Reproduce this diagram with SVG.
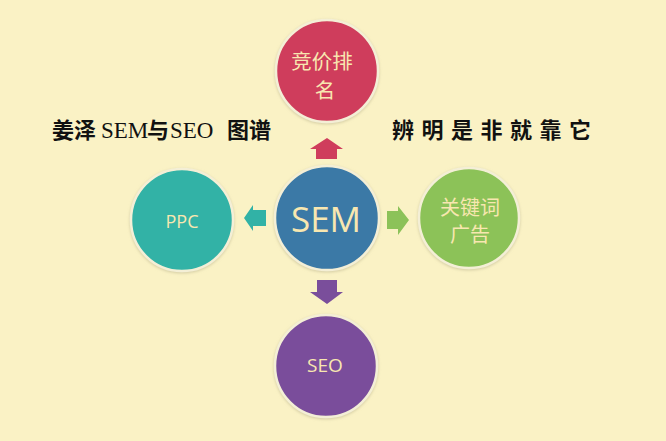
<svg xmlns="http://www.w3.org/2000/svg" width="666" height="441" viewBox="0 0 666 441">
<defs>
<style>
.ring{stroke:#f4efd6;stroke-width:2.5}
.lbl{fill:#f8e7b0;font-family:"Noto Sans CJK SC","Noto Sans",sans-serif;text-anchor:middle}
.en{font-family:"Open Sans","Noto Sans",sans-serif}
.title{fill:#111;font-family:"Noto Sans CJK SC",sans-serif;font-weight:bold;font-size:22px}
.ser{font-family:"Liberation Serif",serif;font-weight:normal;font-size:23px}
</style>
<filter id="sh" x="-20%" y="-20%" width="140%" height="140%">
<feDropShadow dx="0" dy="1" stdDeviation="1.5" flood-color="#b8b08a" flood-opacity="0.6"/>
</filter>
</defs>
<rect width="666" height="441" fill="#faf2c5"/>
<g id="connectors">
<polygon points="327,138 343,149 337,149 337,159 316,159 316,149 310,149" fill="#cf3d5c"/>
<polygon points="244,218 253,205 253,210 266,210 266,226 253,226 253,231" fill="#31b2a6"/>
<polygon points="409,220 398,206 398,211 387,211 387,229 398,229 398,235" fill="#8cc259"/>
<polygon points="327,304 343,292 337,292 337,280 317,280 317,292 310,292" fill="#7a4e9b"/>
</g>
<g id="node-top">
<circle cx="327" cy="71" r="51" fill="#cf3d5c" class="ring" filter="url(#sh)"/>
<text class="lbl" x="322" y="69" font-size="20.5">竞价排</text>
<text class="lbl" x="325" y="98" font-size="20.5">名</text>
</g>
<g id="node-sem">
<circle cx="327" cy="218" r="52" fill="#3b79a6" class="ring" filter="url(#sh)"/>
<text class="lbl en" x="326" y="232" font-size="35">SEM</text>
</g>
<g id="node-ppc">
<circle cx="182" cy="220" r="51" fill="#31b2a6" class="ring" filter="url(#sh)"/>
<text class="lbl en" x="182" y="228" font-size="18">PPC</text>
</g>
<g id="node-keyword">
<circle cx="469" cy="218" r="50" fill="#8cc259" class="ring" filter="url(#sh)"/>
<text class="lbl" x="470" y="215" font-size="20">关键词</text>
<text class="lbl" x="470" y="242" font-size="20">广告</text>
</g>
<g id="node-seo">
<circle cx="326" cy="366" r="51" fill="#7a4e9b" class="ring" filter="url(#sh)"/>
<text class="lbl en" x="325" y="372" font-size="19">SEO</text>
</g>
<g id="title-left">
<text class="title" y="138"><tspan x="52">姜泽</tspan><tspan class="ser" x="101">SEM</tspan><tspan x="147">与</tspan><tspan class="ser" x="170">SEO</tspan><tspan x="227">图谱</tspan></text>
</g>
<g id="title-right">
<text class="title" x="392" y="138" letter-spacing="7.5">辨明是非就靠它</text>
</g>
</svg>
